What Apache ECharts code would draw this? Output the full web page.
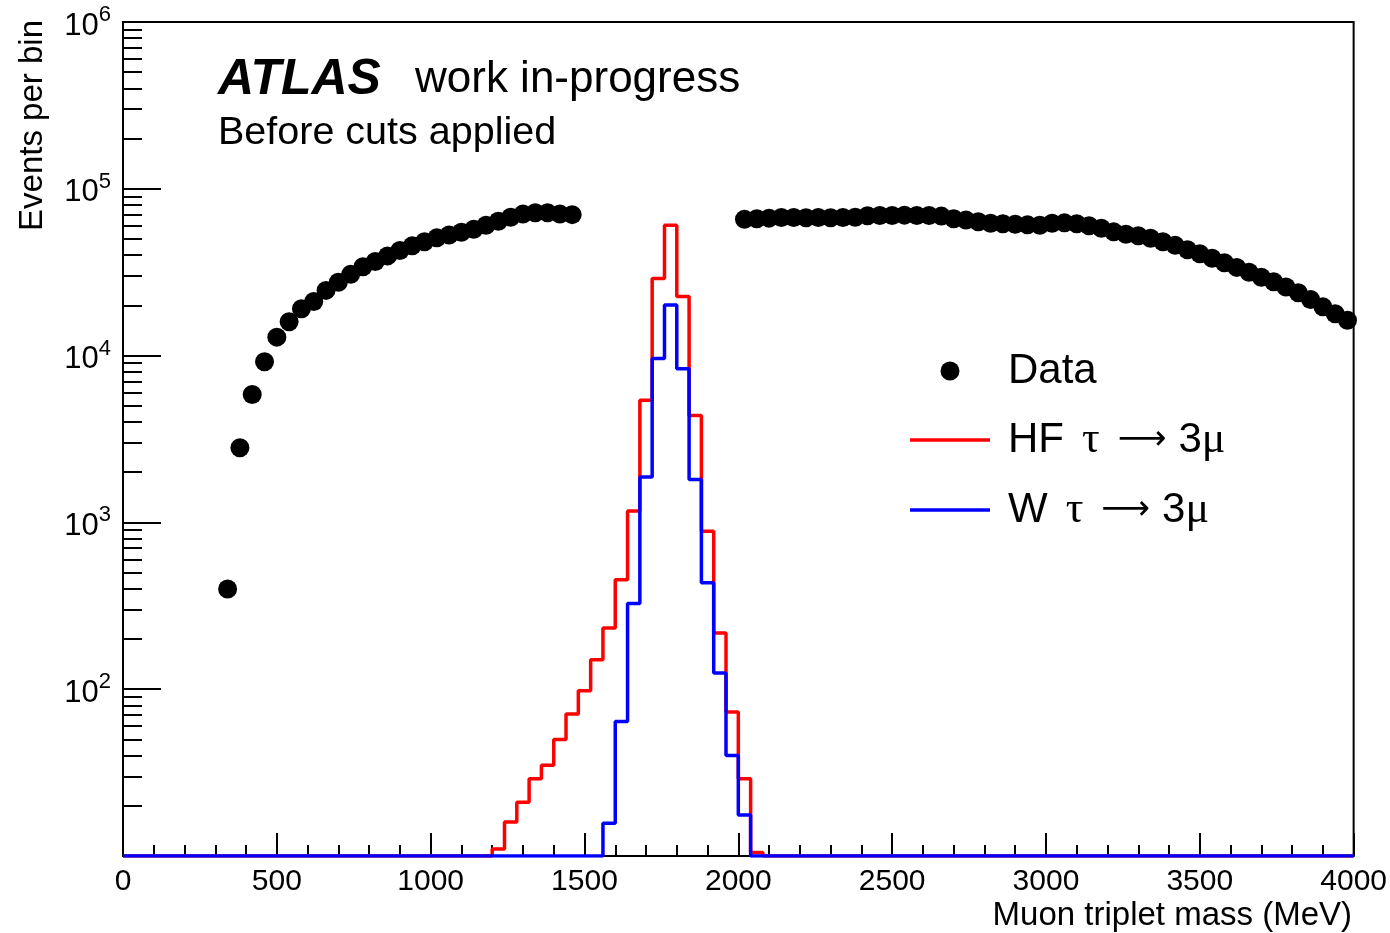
<!DOCTYPE html>
<html>
<head>
<meta charset="utf-8">
<title>Muon triplet mass</title>
<script src="https://cdn.jsdelivr.net/npm/echarts@6/dist/echarts.min.js"></script>
<style>
  html, body { margin: 0; padding: 0; background: #ffffff; }
  #chart { width: 1390px; height: 933px; }
</style>
</head>
<body>
<div id="chart"></div>
<script>
// ---- binning / ranges -------------------------------------------------
const BIN_WIDTH = 40;            // MeV per bin
const MASS_MIN = 0;
const MASS_MAX = 4000;
const Y_MIN = 10;
const Y_MAX = 1e6;

// ---- data (signal window 1480-2000 MeV blinded) -----------------------
// bin centres, MeV
const dataMassLow = [340, 380, 420, 460, 500, 540, 580, 620, 660, 700,
  740, 780, 820, 860, 900, 940, 980, 1020, 1060, 1100,
  1140, 1180, 1220, 1260, 1300, 1340, 1380, 1420, 1460];
const dataCountsLow = [399, 2800, 5850, 9180, 12900, 15970, 19100, 21100, 24600, 27500,
  30700, 34100, 36700, 39600, 42700, 45500, 48100, 50800, 52900, 54900,
  57200, 60500, 63900, 67600, 70500, 71900, 71900, 70500, 70000];

const dataMassHigh = [2020, 2060, 2100, 2140, 2180, 2220, 2260, 2300, 2340, 2380,
  2420, 2460, 2500, 2540, 2580, 2620, 2660, 2700, 2740, 2780,
  2820, 2860, 2900, 2940, 2980, 3020, 3060, 3100, 3140, 3180,
  3220, 3260, 3300, 3340, 3380, 3420, 3460, 3500, 3540, 3580,
  3620, 3660, 3700, 3740, 3780, 3820, 3860, 3900, 3940, 3980];
const dataCountsHigh = [65700, 66200, 66700, 67300, 67300, 67100, 67300, 67100, 67300, 67600,
  69000, 69200, 69200, 69500, 69200, 69200, 68600, 66200, 64900, 63500,
  62200, 61700, 61300, 60800, 60500, 62200, 62500, 61700, 60000, 58000,
  55200, 53400, 52300, 50500, 48100, 45800, 43100, 40800, 38300, 36000,
  33800, 31600, 29500, 27700, 25800, 23800, 21700, 19600, 17800, 16300];

// ---- signal MC: lower bin edges (MeV) and yields, all other bins empty --
const mcLowEdges = [1200, 1240, 1280, 1320, 1360, 1400, 1440, 1480, 1520, 1560,
  1600, 1640, 1680, 1720, 1760, 1800, 1840, 1880, 1920, 1960,
  2000, 2040];
const hfCounts = [11, 16, 21, 29, 35, 50, 71, 98, 150, 233,
  453, 1170, 5400, 29000, 60400, 22600, 4380, 885, 217, 73,
  29, 10.5];
const wCounts = [0, 0, 0, 0, 0, 0, 0, 0, 0, 15.7,
  64, 326, 1870, 9620, 20100, 8340, 1810, 434, 125, 40,
  17.6, 0];

// ---- axis ticks --------------------------------------------------------
const xMajorStep = 500;
const yDecades = [10, 100, 1000, 10000, 100000, 1000000];

// ---- helpers -----------------------------------------------------------
// Step outline of a histogram over the full axis range; empty bins rest on
// the axis floor so the outline runs along the bottom of the frame.
function histogramOutline(lowEdges, counts) {
  const pts = [];
  for (let lo = MASS_MIN; lo < MASS_MAX; lo += BIN_WIDTH) {
    const i = lowEdges.indexOf(lo);
    const v = i >= 0 ? Math.max(counts[i], Y_MIN) : Y_MIN;
    pts.push([lo, v], [lo + BIN_WIDTH, v]);
  }
  return pts;
}

function pairs(xs, ys) {
  return xs.map((x, i) => [x, ys[i]]);
}

// minor log ticks 2..9 x 10^n
const yMinorTicks = [];
for (let d = 0; d < yDecades.length - 1; d++) {
  for (let m = 2; m <= 9; m++) yMinorTicks.push(m * yDecades[d]);
}

const FONT = '"Liberation Sans", Arial, Helvetica, sans-serif';
const SERIF = '"Liberation Serif", "DejaVu Serif", serif';
const RED = '#ff0000';
const BLUE = '#0000ff';

const chart = echarts.init(document.getElementById('chart'), null, { renderer: 'canvas' });

const gridRect = { left: 123, right: 35, top: 22, bottom: 77 };

// legend entry text: "<name> τ → 3μ"
function decayLabel(name) {
  return '{t|' + name + '}{sp|}{g|τ}{gapL|}{a|⟶}{gapR|}{t|3}{g|μ}';
}
const decayRich = {
  t: { font: '42px ' + FONT, fill: '#000' },
  sp: { width: 18 },
  gapL: { width: 18 },
  gapR: { width: 12 },
  g: { font: '44px ' + SERIF, fill: '#000' },
  a: { font: '34px "DejaVu Sans", sans-serif', fill: '#000' }
};

const option = {
  animation: false,
  backgroundColor: '#ffffff',
  grid: [
    Object.assign({ show: true, borderColor: '#000', borderWidth: 2, backgroundColor: 'transparent' }, gridRect),
    Object.assign({ show: false }, gridRect)
  ],
  xAxis: [
    {
      type: 'value', gridIndex: 0, min: MASS_MIN, max: MASS_MAX, interval: xMajorStep,
      position: 'bottom',
      axisLine: { show: true, onZero: false, lineStyle: { color: '#000', width: 2 } },
      axisTick: { show: true, inside: true, length: 23, lineStyle: { color: '#000', width: 2 } },
      minorTick: { show: true, splitNumber: 5, length: 11, lineStyle: { color: '#000', width: 2 } },
      axisLabel: {
        show: true, margin: 11, color: '#000', fontFamily: FONT, fontSize: 30,
        formatter: v => String(v)
      },
      splitLine: { show: false }
    },
    {
      type: 'value', gridIndex: 1, min: MASS_MIN, max: MASS_MAX, show: false
    }
  ],
  yAxis: [
    {
      type: 'log', gridIndex: 0, logBase: 10, min: Y_MIN, max: Y_MAX, position: 'left',
      axisLine: { show: true, onZero: false, lineStyle: { color: '#000', width: 2 } },
      axisTick: { show: true, inside: true, length: 38, lineStyle: { color: '#000', width: 2 } },
      axisLabel: {
        show: true, margin: 12, showMinLabel: false, color: '#000', fontFamily: FONT,
        formatter: v => '{b|10}{s|' + Math.round(Math.log10(v)) + '}',
        rich: {
          b: { fontSize: 31, fontFamily: FONT, color: '#000', lineHeight: 36, padding: [8, 0, 0, 0] },
          s: { fontSize: 22, fontFamily: FONT, color: '#000', verticalAlign: 'top', lineHeight: 22 }
        }
      },
      splitLine: { show: false }
    },
    {
      type: 'log', gridIndex: 1, logBase: 10, min: Y_MIN, max: Y_MAX, position: 'left',
      axisLine: { show: false, onZero: false },
      axisTick: { show: true, inside: true, length: 19, customValues: yMinorTicks, lineStyle: { color: '#000', width: 2 } },
      axisLabel: { show: false },
      splitLine: { show: false }
    }
  ],
  series: [
    {
      name: 'HF', type: 'line', xAxisIndex: 0, yAxisIndex: 0,
      data: histogramOutline(mcLowEdges, hfCounts),
      showSymbol: false, symbol: 'none',
      lineStyle: { color: RED, width: 3.5 }, z: 3
    },
    {
      name: 'W', type: 'line', xAxisIndex: 0, yAxisIndex: 0,
      data: histogramOutline(mcLowEdges, wCounts),
      showSymbol: false, symbol: 'none',
      lineStyle: { color: BLUE, width: 3.5 }, z: 4
    },
    {
      name: 'Data', type: 'scatter', xAxisIndex: 0, yAxisIndex: 0,
      data: pairs(dataMassLow, dataCountsLow).concat(pairs(dataMassHigh, dataCountsHigh)),
      symbol: 'circle', symbolSize: 19,
      itemStyle: { color: '#000', opacity: 1 }, z: 5
    }
  ],
  graphic: [
    // axis titles
    {
      type: 'text', x: 1352, y: 916,
      style: { text: 'Muon triplet mass (MeV)', fill: '#000', font: '33px ' + FONT, align: 'right', verticalAlign: 'middle' }
    },
    {
      type: 'text', x: 33, y: 20, rotation: Math.PI / 2,
      style: { text: 'Events per bin', fill: '#000', font: '33px ' + FONT, align: 'right', verticalAlign: 'middle' }
    },
    // labels
    {
      type: 'text', x: 218, y: 80,
      style: { text: 'ATLAS', fill: '#000', font: 'italic bold 50px ' + FONT, align: 'left', verticalAlign: 'middle' }
    },
    {
      type: 'text', x: 415, y: 80,
      style: { text: 'work in-progress', fill: '#000', font: '44px ' + FONT, align: 'left', verticalAlign: 'middle' }
    },
    {
      type: 'text', x: 218, y: 133,
      style: { text: 'Before cuts applied', fill: '#000', font: '39.5px ' + FONT, align: 'left', verticalAlign: 'middle' }
    },
    // legend
    { type: 'circle', shape: { cx: 950, cy: 371, r: 9.5 }, style: { fill: '#000' } },
    {
      type: 'text', x: 1008, y: 371,
      style: { text: 'Data', fill: '#000', font: '42px ' + FONT, align: 'left', verticalAlign: 'middle' }
    },
    { type: 'line', shape: { x1: 910, y1: 440, x2: 990, y2: 440 }, style: { stroke: RED, lineWidth: 3.5 } },
    {
      type: 'text', x: 1008, y: 440,
      style: { text: decayLabel('HF'), align: 'left', verticalAlign: 'middle', rich: decayRich }
    },
    { type: 'line', shape: { x1: 910, y1: 510, x2: 990, y2: 510 }, style: { stroke: BLUE, lineWidth: 3.5 } },
    {
      type: 'text', x: 1008, y: 510,
      style: { text: decayLabel('W'), align: 'left', verticalAlign: 'middle', rich: decayRich }
    }
  ]
};

chart.setOption(option);
</script>
</body>
</html>
